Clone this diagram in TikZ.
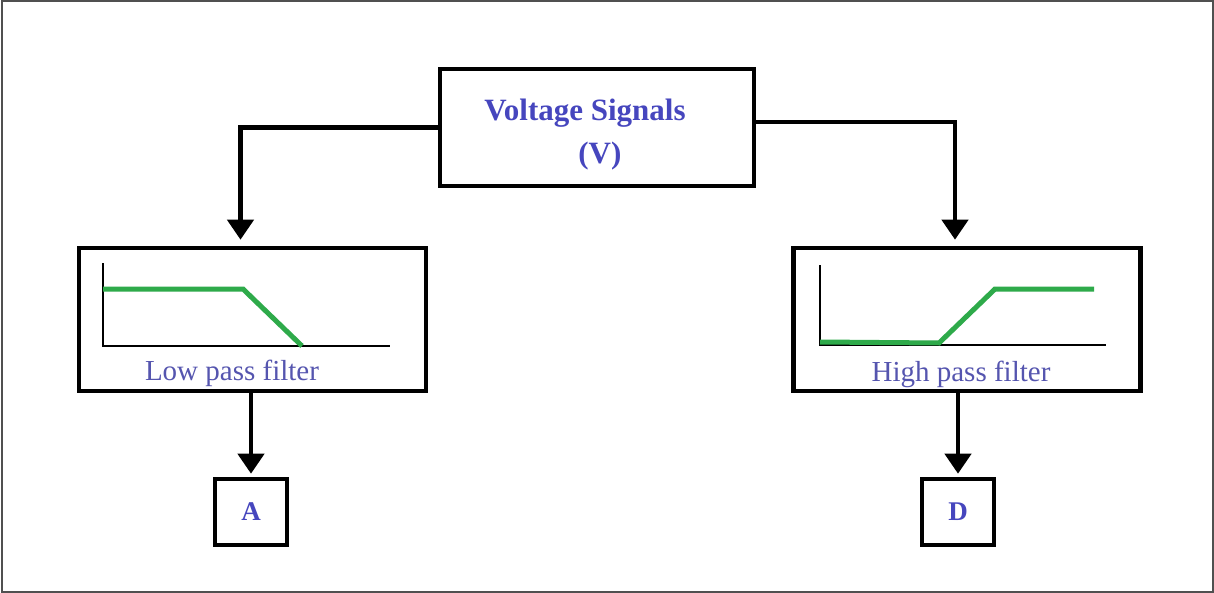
\documentclass[tikz,border=0pt]{standalone}
\usepackage{fontspec}
\setmainfont{Liberation Serif}
\definecolor{sigblue}{RGB}{70,70,190}
\definecolor{labelblue}{RGB}{85,85,175}
\definecolor{curvegreen}{RGB}{46,170,74}
\definecolor{framegray}{RGB}{80,80,80}
\usetikzlibrary{arrows.meta,positioning}

\tikzset{
  blockbox/.style={draw=black,line width=2.3pt,fill=white},
  conn/.style={line width=2.2pt,-{Triangle[width=13pt,length=10pt]}},
  axisline/.style={line width=0.6pt},
  curve/.style={curvegreen,line width=2.5pt},
}

\begin{document}
\begin{tikzpicture}[x=0.5pt,y=-0.5pt]
  \useasboundingbox (0,0) rectangle (1214,593);
  \draw[framegray,line width=1pt] (1.5,1.5) rectangle (1212.5,591.5);
  % source block
  \node[blockbox,minimum width=157pt,minimum height=58.5pt,align=left,text height=39pt,
        font=\fontsize{15.5}{21.5}\selectfont\bfseries\color{sigblue}] (volt) at (597,127.5)
    {Voltage Signals\hspace*{12pt}\\\hspace*{47pt}(V)};
  % filter blocks
  \node[blockbox,minimum width=173.5pt,minimum height=71.5pt] (lpf) at (252.5,319.5) {};
  \node[blockbox,minimum width=173.5pt,minimum height=71.5pt] (hpf) at (967,319.5) {};
  \draw[axisline] (103,263) -- (103,346) -- (390,346);
  \draw[curve] (103,289) -- (243,289) -- (302,346);
  \draw[axisline] (820,265) -- (820,345) -- (1106,345);
  \draw[curve] (820,342) -- (939,343) -- (995,289) -- (1094,289);
  \node[font=\fontsize{14.5}{17}\selectfont\color{labelblue}] (lpflabel) at (232,373) {Low pass filter};
  \node[font=\fontsize{14.5}{17}\selectfont\color{labelblue}] (hpflabel) at (961,374) {High pass filter};
  % outputs
  \node[blockbox,minimum width=36pt,minimum height=33pt,
        font=\fontsize{13.5}{16}\selectfont\bfseries\color{sigblue}] (outa) at (251,512) {A};
  \node[blockbox,minimum width=36pt,minimum height=33pt,
        font=\fontsize{13.5}{16}\selectfont\bfseries\color{sigblue}] (outd) at (958,512) {D};
  % connectors
  \draw[conn,shorten >=3pt] (volt.west) -| ([xshift=-6pt]lpf.north);
  \draw[conn,shorten >=3pt] ([yshift=2.75pt]volt.east) -| ([xshift=-6pt]hpf.north);
  \draw[conn,shorten >=1.5pt] (lpf.south -| outa.north) -- (outa.north);
  \draw[conn,shorten >=1.5pt] (hpf.south -| outd.north) -- (outd.north);
\end{tikzpicture}
\end{document}
